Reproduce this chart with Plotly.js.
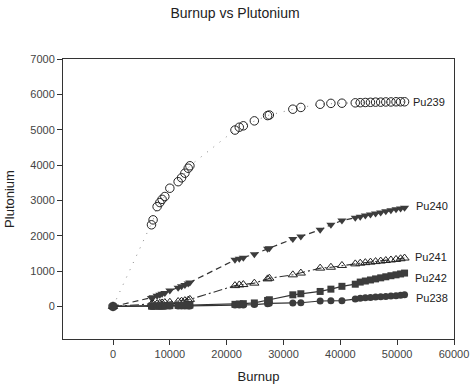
<!DOCTYPE html>
<html>
<head>
<meta charset="utf-8">
<script src="https://cdn.plot.ly/plotly-3.0.1.min.js"></script>
<style>html,body{margin:0;padding:0;background:#fff;}#chart{width:470px;height:390px;}</style>
</head>
<body>
<div id="chart"></div>
<script>
// Data
const burnup = [0,
  6770, 7050, 7760, 8240, 8640, 9120, 10000, 11460, 12060, 12650, 13230, 13530,
  21460, 22220, 22930, 24870, 27200, 27510, 31640, 33050, 36450, 38340, 40280, 42630,
  43500, 44400, 45300, 46200, 47100, 48000, 48900, 49800, 50600, 51300];

const pu239 = [0,
  2310, 2450, 2825, 2940, 3030, 3110, 3345, 3530, 3640, 3770, 3910, 3980,
  4990, 5070, 5110, 5250, 5400, 5415, 5580, 5630, 5720, 5745, 5750, 5760,
  5765, 5770, 5775, 5780, 5780, 5785, 5785, 5790, 5790, 5790];

const pu240 = [0,
  240, 260, 300, 330, 360, 380, 450, 530, 570, 610, 650, 680,
  1320, 1350, 1380, 1480, 1630, 1650, 1910, 1980, 2170, 2310, 2430, 2510,
  2540, 2570, 2600, 2630, 2660, 2690, 2720, 2750, 2770, 2790];

const pu241 = [0,
  60, 70, 80, 90, 100, 110, 120, 140, 150, 165, 180, 200,
  590, 610, 620, 660, 780, 800, 895, 945, 1085, 1110, 1160, 1205,
  1225, 1240, 1255, 1270, 1285, 1300, 1315, 1330, 1350, 1370];

const pu242 = [0,
  10, 12, 14, 16, 18, 20, 24, 30, 33, 36, 40, 42,
  60, 70, 80, 100, 170, 190, 330, 360, 425, 490, 570, 630,
  690, 720, 750, 780, 810, 840, 870, 895, 920, 945];

const pu238 = [0,
  5, 6, 7, 8, 8, 9, 10, 12, 13, 14, 15, 16,
  40, 42, 45, 55, 80, 90, 100, 105, 155, 160, 165, 210,
  235, 245, 255, 265, 275, 285, 295, 305, 315, 330];

const seriesNames = ["Pu239", "Pu240", "Pu241", "Pu238", "Pu242"];
const seriesValues = [pu239, pu240, pu241, pu238, pu242];

const xTickVals = [0, 10000, 20000, 30000, 40000, 50000, 60000];
const yTickVals = [0, 1000, 2000, 3000, 4000, 5000, 6000, 7000];

// Styles
const dark = "#3c3c3c";
const styles = {
  Pu239: {line: {color: "#888", width: 1, dash: "1px,7px"}, marker: {symbol: "circle-open", size: 8.5, color: "#222", line: {width: 1}}, xshift: 6, yshift: 0},
  Pu240: {line: {color: "#333", width: 1.2, dash: "6px,4px"}, marker: {symbol: "triangle-down", size: 8, color: dark}, xshift: 9, yshift: 2},
  Pu241: {line: {color: "#333", width: 1.1, dash: "9px,3px,2px,3px"}, marker: {symbol: "triangle-up-open", size: 8, color: "#222", line: {width: 1}}, xshift: 8, yshift: 1},
  Pu238: {line: {color: "#333", width: 1.2}, marker: {symbol: "circle", size: 7, color: dark}, xshift: 9, yshift: -3},
  Pu242: {line: {color: "#333", width: 1.2}, marker: {symbol: "square", size: 7, color: dark}, xshift: 8, yshift: -5}
};

const traces = seriesNames.map((name, i) => ({
  type: "scatter",
  mode: "lines+markers",
  name: name,
  x: burnup,
  y: seriesValues[i],
  line: styles[name].line,
  marker: styles[name].marker,
  showlegend: false
}));

const fontFam = "Liberation Sans, Arial, sans-serif";

const annotations = seriesNames.map((name, i) => ({
  x: burnup[burnup.length - 1],
  y: seriesValues[i][seriesValues[i].length - 1],
  xref: "x", yref: "y",
  text: name,
  showarrow: false,
  xanchor: "left",
  yanchor: "middle",
  xshift: styles[name].xshift,
  yshift: styles[name].yshift,
  font: {family: fontFam, size: 11, color: "#222"}
}));

const layout = {
  width: 470, height: 390,
  paper_bgcolor: "#fff", plot_bgcolor: "#fff",
  margin: {l: 63, r: 16, t: 59, b: 51, pad: 0},
  title: {text: "Burnup vs Plutonium", x: 0.5, xref: "container", y: 0.967, yref: "container", yanchor: "middle",
          font: {family: fontFam, size: 14, color: "#222"}},
  font: {family: fontFam, color: "#333"},
  xaxis: {
    range: [-8800, 60000], tickvals: xTickVals, ticktext: xTickVals.map(String),
    showgrid: false, zeroline: false, showline: true, mirror: true, linecolor: "#333", linewidth: 1,
    ticks: "outside", ticklen: 5, tickcolor: "#333", tickfont: {size: 11, color: "#444"},
    title: {text: "Burnup", font: {size: 13, color: "#222"}, standoff: 12}
  },
  yaxis: {
    range: [-920, 7000], tickvals: yTickVals, ticktext: yTickVals.map(String),
    showgrid: false, zeroline: false, showline: true, mirror: true, linecolor: "#333", linewidth: 1,
    ticks: "outside", ticklen: 5, tickcolor: "#333", tickfont: {size: 11, color: "#444"},
    title: {text: "Plutonium", font: {size: 13, color: "#222"}, standoff: 12}
  },
  annotations: annotations
};

Plotly.newPlot("chart", traces, layout, {staticPlot: true, displayModeBar: false});
</script>
</body>
</html>
